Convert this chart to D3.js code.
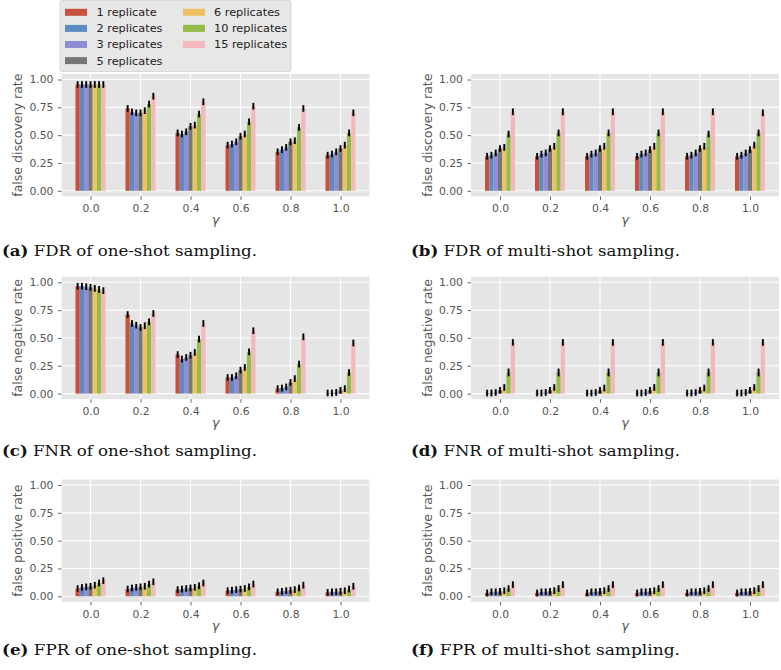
<!DOCTYPE html>
<html><head><meta charset="utf-8">
<script src="https://cdn.jsdelivr.net/npm/d3@7"></script>
<style>body{margin:0;background:#fff}</style>
</head><body><svg id="c" width="781" height="670"></svg>
<script>
// ---------- data ----------
const gammas = [0.0, 0.2, 0.4, 0.6, 0.8, 1.0];
const gammaLabels = ["0.0", "0.2", "0.4", "0.6", "0.8", "1.0"];
const seriesNames = ["1 replicate", "2 replicates", "3 replicates", "5 replicates", "6 replicates", "10 replicates", "15 replicates"];
const seriesColors = ["#c9503c", "#5b8bc0", "#8f8dd6", "#767676", "#eec262", "#95bb49", "#f3b8bb"];
const yTicks = [0, 0.25, 0.5, 0.75, 1.0];
const yTickLabels = ["0.00", "0.25", "0.50", "0.75", "1.00"];

// rows: one array per gamma, 7 values (one per series)
const fdrOneShot = [
  [0.955, 0.955, 0.955, 0.955, 0.955, 0.955, 0.955],
  [0.74, 0.71, 0.70, 0.70, 0.72, 0.78, 0.85],
  [0.52, 0.51, 0.53, 0.58, 0.59, 0.69, 0.80],
  [0.41, 0.42, 0.44, 0.49, 0.51, 0.62, 0.76],
  [0.35, 0.37, 0.39, 0.44, 0.45, 0.57, 0.74],
  [0.32, 0.33, 0.35, 0.38, 0.41, 0.52, 0.70]
];
const fdrMultiShot = [
  [0.31, 0.32, 0.34, 0.38, 0.39, 0.51, 0.71],
  [0.31, 0.33, 0.34, 0.38, 0.40, 0.52, 0.71],
  [0.31, 0.33, 0.34, 0.38, 0.40, 0.52, 0.71],
  [0.31, 0.33, 0.34, 0.37, 0.40, 0.52, 0.71],
  [0.31, 0.32, 0.34, 0.38, 0.40, 0.51, 0.71],
  [0.31, 0.32, 0.34, 0.37, 0.41, 0.52, 0.70]
];
const fnrOneShot = [
  [0.965, 0.965, 0.96, 0.955, 0.945, 0.935, 0.925],
  [0.71, 0.63, 0.615, 0.595, 0.61, 0.645, 0.72],
  [0.35, 0.31, 0.325, 0.345, 0.37, 0.49, 0.63],
  [0.145, 0.145, 0.16, 0.21, 0.235, 0.375, 0.565],
  [0.045, 0.05, 0.06, 0.10, 0.135, 0.265, 0.51],
  [0.005, 0.005, 0.01, 0.03, 0.045, 0.19, 0.455]
];
const fnrMultiShot = [
  [0.005, 0.005, 0.01, 0.03, 0.055, 0.19, 0.46],
  [0.005, 0.005, 0.01, 0.03, 0.055, 0.19, 0.46],
  [0.005, 0.005, 0.01, 0.03, 0.05, 0.19, 0.46],
  [0.005, 0.005, 0.01, 0.03, 0.055, 0.19, 0.46],
  [0.005, 0.005, 0.01, 0.03, 0.05, 0.19, 0.46],
  [0.005, 0.005, 0.01, 0.03, 0.055, 0.19, 0.46]
];
const fprOneShot = [
  [0.07, 0.08, 0.085, 0.09, 0.10, 0.12, 0.14],
  [0.065, 0.075, 0.08, 0.085, 0.09, 0.11, 0.13],
  [0.06, 0.065, 0.07, 0.075, 0.08, 0.095, 0.12],
  [0.05, 0.055, 0.06, 0.065, 0.07, 0.085, 0.11],
  [0.04, 0.045, 0.05, 0.055, 0.06, 0.075, 0.10],
  [0.035, 0.04, 0.04, 0.045, 0.05, 0.065, 0.09]
];
const fprMultiShot = [
  [0.03, 0.04, 0.04, 0.045, 0.05, 0.07, 0.105],
  [0.03, 0.04, 0.04, 0.045, 0.05, 0.07, 0.105],
  [0.03, 0.04, 0.04, 0.045, 0.05, 0.07, 0.105],
  [0.03, 0.04, 0.04, 0.045, 0.05, 0.07, 0.105],
  [0.03, 0.04, 0.04, 0.045, 0.05, 0.07, 0.105],
  [0.03, 0.04, 0.04, 0.045, 0.05, 0.07, 0.105]
];
// error half-widths, one per series
const fdrOneShotErr = [0.03, 0.03, 0.03, 0.03, 0.03, 0.03, 0.03];
const fdrMultiShotErr = [0.03, 0.03, 0.03, 0.03, 0.03, 0.03, 0.03];
const fnrOneShotErr = [0.03, 0.03, 0.03, 0.03, 0.03, 0.03, 0.03];
const fnrMultiShotErr = [0.03, 0.03, 0.03, 0.03, 0.03, 0.035, 0.03];
const fprOneShotErr = [0.03, 0.03, 0.03, 0.03, 0.03, 0.03, 0.03];
const fprMultiShotErr = [0.03, 0.03, 0.03, 0.03, 0.03, 0.03, 0.03];

const panelTags = ["(a)", "(b)", "(c)", "(d)", "(e)", "(f)"];
const panelCaptions = [" FDR of one-shot sampling.", " FDR of multi-shot sampling.",
  " FNR of one-shot sampling.", " FNR of multi-shot sampling.",
  " FPR of one-shot sampling.", " FPR of multi-shot sampling."];
const yLabels = ["false discovery rate", "false negative rate", "false positive rate"];

// ---------- layout ----------
const colLeft = [61.5, 471];
const bgW = 308;
const rowTop = [79.5, 282.3, 485]; // pixel of y = 1.0
const unitPx = 111.3;
const capBaseline = [255.5, 456, 654.5];
const capX = [2, 411];
const capLen = [255, 269];

const svg = d3.select("#c");
svg.append("rect").attr("width", 781).attr("height", 670).attr("fill", "#fff");

const panels = [
  {data: fdrOneShot, err: fdrOneShotErr, row: 0, col: 0},
  {data: fdrMultiShot, err: fdrMultiShotErr, row: 0, col: 1},
  {data: fnrOneShot, err: fnrOneShotErr, row: 1, col: 0},
  {data: fnrMultiShot, err: fnrMultiShotErr, row: 1, col: 1},
  {data: fprOneShot, err: fprOneShotErr, row: 2, col: 0},
  {data: fprMultiShot, err: fprMultiShotErr, row: 2, col: 1}
];

panels.forEach((p, pi) => {
  const bgL = colLeft[p.col];
  const top1 = rowTop[p.row];
  const x = d3.scaleLinear().domain([0, 1]).range([bgL + 29, bgL + 279]);
  const y = d3.scaleLinear().domain([0, 1]).range([top1 + unitPx, top1]);
  const sub = d3.scaleBand().domain(seriesNames).range([-0.06, 0.06]);
  const g = svg.append("g");
  const bgTop = y(1.05), bgBot = y(-0.05);

  g.append("rect").attr("x", bgL).attr("y", bgTop).attr("width", bgW)
    .attr("height", bgBot - bgTop).attr("fill", "#e5e5e5");

  g.selectAll(".hg").data(yTicks).join("line")
    .attr("x1", bgL).attr("x2", bgL + bgW)
    .attr("y1", d => y(d)).attr("y2", d => y(d))
    .attr("stroke", "#fff").attr("stroke-width", 1.1);
  g.selectAll(".vg").data(gammas).join("line")
    .attr("y1", bgTop).attr("y2", bgBot)
    .attr("x1", d => x(d)).attr("x2", d => x(d))
    .attr("stroke", "#fff").attr("stroke-width", 1.1);

  const items = [];
  p.data.forEach((row, i) => row.forEach((v, j) => items.push({gm: gammas[i], s: seriesNames[j], j, v, e: p.err[j]})));
  const bw = x(sub.bandwidth()) - x(0);

  g.selectAll(".bar").data(items).join("rect")
    .attr("x", d => x(d.gm + sub(d.s)))
    .attr("width", bw)
    .attr("y", d => y(d.v))
    .attr("height", d => y(0) - y(d.v))
    .attr("fill", d => seriesColors[d.j]);

  g.selectAll(".err").data(items).join("line")
    .attr("x1", d => x(d.gm + sub(d.s)) + bw / 2)
    .attr("x2", d => x(d.gm + sub(d.s)) + bw / 2)
    .attr("y1", d => y(d.v - d.e)).attr("y2", d => y(d.v + d.e))
    .attr("stroke", "#000").attr("stroke-width", 1.9);

  const ya = g.append("g").attr("transform", `translate(${bgL},0)`)
    .call(d3.axisLeft(y).tickValues(yTicks).tickFormat((d, i) => yTickLabels[i]).tickSize(3.5).tickPadding(4.5));
  const xa = g.append("g").attr("transform", `translate(0,${bgBot})`)
    .call(d3.axisBottom(x).tickValues(gammas).tickFormat((d, i) => gammaLabels[i]).tickSize(3.5));
  [ya, xa].forEach(a => {
    a.select(".domain").remove();
    a.selectAll(".tick line").attr("stroke", "#555").attr("stroke-width", 0.9);
    a.selectAll(".tick text").attr("fill", "#555").attr("font-family", "DejaVu Sans").attr("font-size", 10.8);
  });
  xa.selectAll(".tick text").attr("dy", null).attr("y", 15.8);

  g.append("text").attr("transform", `translate(${bgL - 39.5},${(bgTop + bgBot) / 2}) rotate(-90)`)
    .attr("text-anchor", "middle").attr("font-family", "DejaVu Sans").attr("font-size", 12.5)
    .attr("fill", "#555").text(yLabels[p.row]);
  g.append("text").attr("x", bgL + bgW / 2).attr("y", y(0) + 33.5)
    .attr("text-anchor", "middle").attr("font-family", "DejaVu Sans").attr("font-style", "italic")
    .attr("font-size", 13).attr("fill", "#555").text("γ");

  const cap = svg.append("text").attr("x", capX[p.col]).attr("y", capBaseline[p.row])
    .attr("font-family", "DejaVu Serif").attr("font-size", 14.3).attr("fill", "#111")
    .attr("textLength", capLen[p.col]).attr("lengthAdjust", "spacingAndGlyphs");
  cap.append("tspan").attr("font-weight", "bold").text(panelTags[pi]);
  cap.append("tspan").text(panelCaptions[pi]);
});

// ---------- legend ----------
const lg = svg.append("g");
lg.append("rect").attr("x", 60).attr("y", 0.5).attr("width", 231).attr("height", 71).attr("rx", 2)
  .attr("fill", "#e5e5e5").attr("fill-opacity", 0.92).attr("stroke", "#d0d0d0").attr("stroke-width", 0.8);
const legPos = seriesNames.map((s, i) => i < 4 ? {px: 65, tx: 96.5, r: i} : {px: 183, tx: 214, r: i - 4});
seriesNames.forEach((s, i) => {
  const lp = legPos[i];
  const cy = 12.3 + lp.r * 16.1;
  lg.append("rect").attr("x", lp.px).attr("y", cy - 3.5).attr("width", 22).attr("height", 7)
    .attr("fill", seriesColors[i]);
  lg.append("text").attr("x", lp.tx).attr("y", cy).attr("dy", "0.35em")
    .attr("font-family", "DejaVu Sans").attr("font-size", 11.3).attr("fill", "#222").text(s);
});
</script></body></html>
